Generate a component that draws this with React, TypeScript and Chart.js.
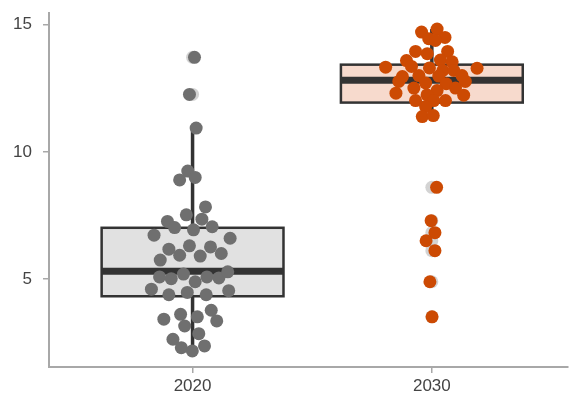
import React, { useEffect, useRef } from 'react';
import { Chart, registerables } from 'chart.js';

Chart.register(...registerables);

// ---- data ----
const categories = ['2020', '2030'];

const values2020 = [
  13.72, 12.26, 10.94, 9.25, 8.9, 9.0, 7.84, 7.53, 7.36, 7.27, 7.03, 6.94, 7.06,
  6.73, 6.61, 6.18, 6.31, 6.27, 5.94, 5.91, 6.01, 5.75, 5.09, 5.02, 5.2, 4.9,
  5.09, 5.05, 5.29, 4.61, 4.39, 4.48, 4.39, 4.55, 3.62, 3.43, 3.52, 3.78, 3.36,
  3.16, 2.86, 2.64, 2.31, 2.18, 2.38,
];
const jitter2020 = [
  0.008, -0.013, 0.015, -0.02, -0.054, 0.011, 0.054, -0.026, 0.039, -0.105,
  -0.075, 0.004, 0.082, -0.161, 0.157, -0.099, -0.013, 0.075, -0.054, 0.032,
  0.12, -0.135, -0.138, -0.089, -0.038, 0.011, 0.06, 0.11, 0.147, -0.172,
  -0.099, -0.022, 0.057, 0.151, -0.05, -0.12, 0.02, 0.078, 0.101, -0.033,
  0.026, -0.082, -0.047, -0.001, 0.05,
];

const values2030 = [
  14.71, 14.83, 14.5, 14.45, 14.38, 13.95, 13.86, 13.95, 13.59, 13.61, 13.54,
  13.33, 13.29, 13.36, 13.3, 13.2, 13.2, 13.0, 12.96, 12.98, 13.0, 12.77, 12.71,
  12.68, 12.77, 12.51, 12.41, 12.51, 12.31, 12.24, 12.23, 12.02, 12.02, 12.02,
  11.78, 11.39, 11.43, 8.61, 7.3, 6.83, 6.51, 6.12, 4.9, 3.52,
];
const jitter2030 = [
  -0.043, 0.022, 0.055, -0.013, 0.015, -0.068, -0.019, 0.066, -0.106, 0.036,
  0.085, -0.193, 0.189, -0.085, -0.01, 0.046, 0.092, -0.054, -0.123, 0.029,
  0.126, -0.138, -0.026, 0.06, 0.14, -0.075, 0.022, 0.099, -0.15, -0.02, 0.133,
  -0.068, 0.008, 0.057, -0.026, -0.04, 0.006, 0.02, -0.003, 0.013, -0.024,
  0.013, -0.008, 0.001,
];

const boxQ1 = [4.33, 11.94];
const boxMedian = [5.31, 12.82];
const boxQ3 = [7.02, 13.43];
const whiskerLow = [2.18, 11.39];
const whiskerHigh = [10.94, 14.83];

const yTicks = [5, 10, 15];

// ---- styles ----
const pointColors = ['#6f6f6f', '#cc4a03'];
const boxFills = ['#e1e1e1', '#f7dacd'];
const darkLine = '#333333';
const axisColor = '#a8a8a8';
const fontFamily = '"Liberation Sans", Arial, sans-serif';

const seriesValues = [values2020, values2030];
const seriesJitter = [jitter2020, jitter2030];

const boxPlugin = {
  id: 'boxPlot',
  beforeDatasetsDraw(chart: any) {
    const { ctx, scales } = chart;
    const x = scales.x;
    const y = scales.y;
    const half = 0.38;
    categories.forEach((_, i) => {
      const pos = i + 1;
      const cx = x.getPixelForValue(pos);
      const left = x.getPixelForValue(pos - half);
      const right = x.getPixelForValue(pos + half);
      const top = y.getPixelForValue(boxQ3[i]);
      const bot = y.getPixelForValue(boxQ1[i]);
      const med = y.getPixelForValue(boxMedian[i]);
      ctx.save();
      ctx.strokeStyle = darkLine;
      ctx.lineWidth = 3.5;
      ctx.beginPath();
      ctx.moveTo(cx, y.getPixelForValue(whiskerLow[i]));
      ctx.lineTo(cx, y.getPixelForValue(whiskerHigh[i]));
      ctx.stroke();
      ctx.fillStyle = boxFills[i];
      ctx.fillRect(left, top, right - left, bot - top);
      ctx.lineWidth = 2.5;
      ctx.strokeRect(left, top, right - left, bot - top);
      ctx.lineWidth = 7;
      ctx.beginPath();
      ctx.moveTo(left, med);
      ctx.lineTo(right, med);
      ctx.stroke();
      ctx.restore();
    });
  },
};

export default function App() {
  const ref = useRef<HTMLCanvasElement | null>(null);

  useEffect(() => {
    if (!ref.current) return;

    const outlierData = categories.map((_, i) =>
      seriesValues[i]
        .filter((v) => v > whiskerHigh[i] || v < whiskerLow[i])
        .map((v) => ({ x: i + 1, y: v }))
    );

    const datasets: any[] = [
      {
        label: 'outliers',
        data: [...outlierData[0], ...outlierData[1]],
        backgroundColor: 'rgba(175,175,175,0.55)',
        borderWidth: 0,
        pointRadius: 6.5,
        order: 2,
      },
      ...categories.map((c, i) => ({
        label: c,
        data: seriesValues[i].map((v, k) => ({ x: i + 1 + seriesJitter[i][k], y: v })),
        backgroundColor: pointColors[i],
        borderWidth: 0,
        pointRadius: 6.5,
        order: 1,
      })),
    ];

    const chart = new Chart(ref.current, {
      type: 'scatter',
      data: { datasets },
      plugins: [boxPlugin],
      options: {
        animation: false,
        responsive: false,
        layout: { padding: { top: 13, right: 0, left: 0, bottom: 0 } },
        plugins: { legend: { display: false }, tooltip: { enabled: false } },
        elements: { point: { hoverRadius: 6.5 } },
        scales: {
          x: {
            type: 'linear',
            bounds: 'data',
            min: 0.4,
            max: 2.567,
            afterBuildTicks: (scale: any) => {
              scale.ticks = categories.map((_, i) => ({ value: i + 1 }));
            },
            afterFit: (scale: any) => {
              scale.height = 28;
              scale.paddingLeft = 0;
              scale.paddingRight = 0;
            },
            ticks: {
              callback: (v: any) => categories[Math.round(Number(v)) - 1] ?? '',
              color: '#444444',
              font: { family: fontFamily, size: 17 },
              padding: 3,
              maxRotation: 0,
            },
            grid: {
              display: true,
              drawOnChartArea: false,
              drawTicks: true,
              tickLength: 6,
              color: axisColor,
              lineWidth: 1.5,
            },
            border: { display: true, color: axisColor, width: 2 },
          },
          y: {
            type: 'linear',
            bounds: 'data',
            min: 1.55,
            max: 15.46,
            afterBuildTicks: (scale: any) => {
              scale.ticks = yTicks.map((v) => ({ value: v }));
            },
            afterFit: (scale: any) => {
              scale.width = 49;
              scale.paddingTop = 0;
              scale.paddingBottom = 0;
            },
            ticks: {
              color: '#444444',
              font: { family: fontFamily, size: 17 },
              padding: 11,
            },
            grid: {
              display: true,
              drawOnChartArea: false,
              drawTicks: true,
              tickLength: 6,
              color: axisColor,
              lineWidth: 1.5,
            },
            border: { display: true, color: axisColor, width: 2 },
          },
        },
      } as any,
    });

    return () => chart.destroy();
  }, []);

  return (
    <div style={{ position: 'fixed', left: 0, top: 0, width: 569, height: 395, overflow: 'hidden', background: '#ffffff' }}>
      <canvas ref={ref} width={574} height={395} style={{ display: 'block' }} />
    </div>
  );
}
